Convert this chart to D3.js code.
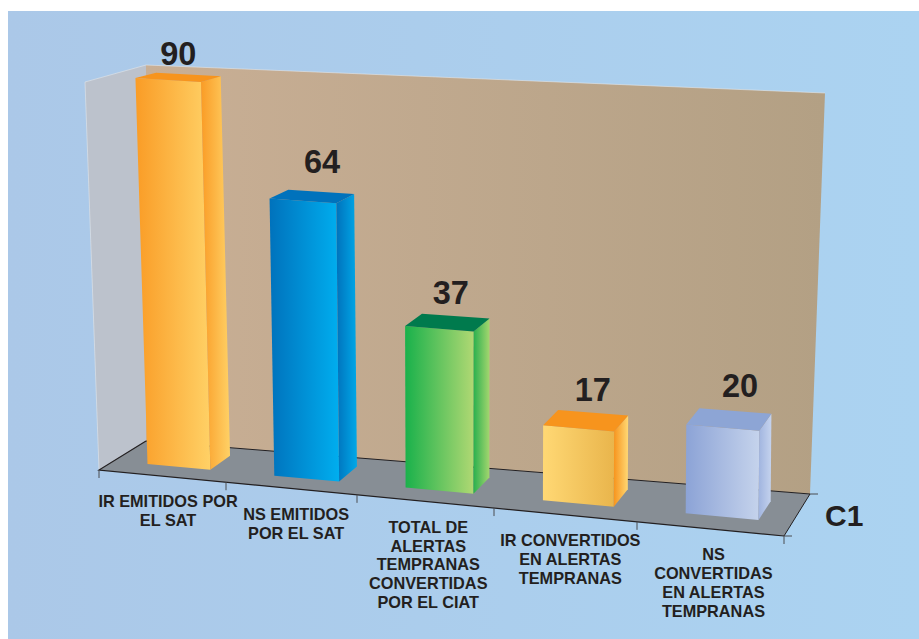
<!DOCTYPE html>
<html>
<head>
	<title>Alertas tempranas</title>
	<meta charset="utf-8">
</head>
<body>

<svg class="chart"></svg>

<style type="text/css">
	body {
		margin: 0;
		background: #fff;
	}

	.chart {
		display: block;
		width: 919px;
		height: 639px;
		font-family: "Liberation Sans", Arial, sans-serif;
		font-weight: bold;
		fill: #231f20;
	}

	.chart .label {
		font-size: 16.3px;
		text-anchor: middle;
	}

	.chart .value {
		font-size: 32.5px;
		text-anchor: middle;
	}
</style>

<script src="https://d3js.org/d3.v7.min.js"></script>
<script type="text/javascript">
	var categories = [
		'IR EMITIDOS POR\nEL SAT',
		'NS EMITIDOS\nPOR EL SAT',
		'TOTAL DE\nALERTAS\nTEMPRANAS\nCONVERTIDAS\nPOR EL CIAT',
		'IR CONVERTIDOS\nEN ALERTAS\nTEMPRANAS',
		'NS\nCONVERTIDAS\nEN ALERTAS\nTEMPRANAS'
	]
	var values = [90, 64, 37, 17, 20]
	var seriesName = 'C1'

	// front, side, top colours of each bar
	var frontColors = [['#fa9c26', '#ffd166'], ['#0072bc', '#00aeef'], ['#19b14b', '#b0d873'], ['#ffd874', '#e9b54c'], ['#8ca3d6', '#c5d3ec']]
	var sideColors = [['#fa9c26', '#ffd166'], ['#0072bc', '#00a8e8'], ['#2ab04e', '#a4d66f'], ['#f7941d', '#ffd874'], ['#a0b4df', '#c5d3ee']]
	var topColors = ['#f7941d', '#0072bc', '#007a4d', '#f7941d', '#8da5d5']

	// hand placed offsets
	var valueNudge = [[0, -12], [10, -23], [3, -18], [7, -20], [11, -22]]
	var labelNudge = [3, 2, 0, 2, 0]

	var svg = d3.select('.chart').attr('viewBox', [0, 0, 919, 639])

	// the box the chart sits in, in page pixels
	var frontLeft = [99, 470]
	var frontRight = [784, 536]
	var backLeft = [146, 441]
	var backRight = [810, 494]
	var topFrontLeft = [85, 82]
	var topBackLeft = [146, 65]
	var topBackRight = [825, 93]

	// u runs along the categories, w goes into the depth, v is the value
	var band = d3.scaleBand().domain(categories).range([0.02, 5.02]).paddingInner(0.5).paddingOuter(0.25)

	var frontX = d3.scaleLinear().domain([0, 1, 2, 3, 4, 5]).range([99, 226, 357, 494, 637, 784])
	var frontY = d3.scaleLinear().domain([frontLeft[0], frontRight[0]]).range([frontLeft[1], frontRight[1]])
	var depthX = d3.scaleLinear().domain([0, 5]).range([backLeft[0] - frontLeft[0], backRight[0] - frontRight[0]])
	var depthY = d3.scaleLinear().domain([0, 5]).range([backLeft[1] - frontLeft[1], backRight[1] - frontRight[1]])
	var lean = d3.scaleLinear().domain([0, 2.5, 5]).range([-0.15, 0, 0.04])
	var rise = d3.scaleLinear().domain([0, 5]).range([4.28, 4.47])

	var depthNear = 0.31
	var depthFar = 0.76

	function project(u, w, v) {
		var x = frontX(u)
		var k = rise(u) - 0.2 * (w - depthNear)
		return [
			x + w * depthX(u) + v * lean(u),
			frontY(x) + w * depthY(u) - v * k
		]
	}

	var polygon = d3.line().curve(d3.curveLinearClosed)

	var defs = svg.append('defs')

	function gradient(id, stops) {
		var g = defs.append('linearGradient').attr('id', id)
		g.selectAll('stop')
			.data(stops)
			.enter()
			.append('stop')
			.attr('offset', function(d, i) { return i / (stops.length - 1) })
			.attr('stop-color', function(d) { return d })
		return 'url(#' + id + ')'
	}

	// background
	svg.append('rect')
		.attr('x', 8)
		.attr('y', 11)
		.attr('width', 911)
		.attr('height', 628)
		.attr('fill', gradient('bg', ['#abc8e8', '#abd3f1']))

	// walls and floor
	svg.append('path')
		.attr('d', polygon([frontLeft, topFrontLeft, topBackLeft, backLeft]))
		.attr('fill', '#bcc2cc')

	svg.append('path')
		.attr('d', polygon([backLeft, topBackLeft, topBackRight, backRight]))
		.attr('fill', gradient('wall', ['#c9af95', '#b3a084']))

	svg.append('path')
		.attr('d', polygon([frontLeft, backLeft, backRight, frontRight]))
		.attr('fill', '#878e95')

	svg.append('path')
		.attr('d', d3.line()([frontLeft, topFrontLeft, topBackLeft, topBackRight]))
		.attr('fill', 'none')
		.attr('stroke', '#e3e6ea')
		.attr('stroke-opacity', 0.6)
		.attr('stroke-width', 1)

	svg.append('path')
		.attr('d', d3.line()([frontRight, frontLeft, backLeft]))
		.attr('fill', 'none')
		.attr('stroke', '#231f20')
		.attr('stroke-width', 1.2)

	svg.append('path')
		.attr('d', d3.line()([backLeft, backRight, frontRight]))
		.attr('fill', 'none')
		.attr('stroke', '#231f20')
		.attr('stroke-width', 1)

	// axis ticks
	svg.selectAll('.tick')
		.data(d3.range(6))
		.enter()
		.append('line')
		.attr('class', 'tick')
		.attr('x1', function(d) { return frontX(d) })
		.attr('x2', function(d) { return frontX(d) })
		.attr('y1', function(d) { return frontY(frontX(d)) })
		.attr('y2', function(d) { return frontY(frontX(d)) + 8 })
		.attr('stroke', '#4a4d50')
		.attr('stroke-width', 1)

	svg.selectAll('.depth-tick')
		.data([frontRight, backRight])
		.enter()
		.append('line')
		.attr('class', 'depth-tick')
		.attr('x1', function(d) { return d[0] })
		.attr('x2', function(d) { return d[0] + 8 })
		.attr('y1', function(d) { return d[1] })
		.attr('y2', function(d) { return d[1] })
		.attr('stroke', '#4a4d50')
		.attr('stroke-width', 1)

	// bars
	var bars = svg.selectAll('.bar')
		.data(categories)
		.enter()
		.append('g')
		.attr('class', 'bar')

	bars.append('path')
		.attr('d', function(d, i) {
			var a = band(d), b = a + band.bandwidth()
			return polygon([project(a, depthNear, 0), project(a, depthNear, values[i]), project(b, depthNear, values[i]), project(b, depthNear, 0)])
		})
		.attr('fill', function(d, i) { return gradient('front' + i, frontColors[i]) })

	bars.append('path')
		.attr('d', function(d, i) {
			var b = band(d) + band.bandwidth()
			return polygon([project(b, depthNear, 0), project(b, depthNear, values[i]), project(b, depthFar, values[i]), project(b, depthFar, 0)])
		})
		.attr('fill', function(d, i) { return gradient('side' + i, sideColors[i]) })

	bars.append('path')
		.attr('d', function(d, i) {
			var a = band(d), b = a + band.bandwidth()
			return polygon([project(a, depthNear, values[i]), project(a, depthFar, values[i]), project(b, depthFar, values[i]), project(b, depthNear, values[i])])
		})
		.attr('fill', function(d, i) { return topColors[i] })

	// value labels
	bars.append('text')
		.attr('class', 'value')
		.attr('x', function(d, i) {
			return project(band(d) + band.bandwidth() / 2, (depthNear + depthFar) / 2, values[i])[0] + valueNudge[i][0]
		})
		.attr('y', function(d, i) {
			return project(band(d) + band.bandwidth() / 2, (depthNear + depthFar) / 2, values[i])[1] + valueNudge[i][1]
		})
		.text(function(d, i) { return values[i] })

	// category labels, wrapped as in the original
	var labels = svg.selectAll('.label')
		.data(categories)
		.enter()
		.append('text')
		.attr('class', 'label')
		.attr('transform', function(d, i) {
			var x = frontX(band(d) + band.bandwidth() / 2)
			return 'translate(' + [x + labelNudge[i], frontY(x) + 31] + ')'
		})

	labels.selectAll('tspan')
		.data(function(d) { return d.split('\n') })
		.enter()
		.append('tspan')
		.attr('x', 0)
		.attr('y', function(d, i) { return i * 18.8 })
		.text(function(d) { return d })

	svg.append('text')
		.attr('x', 825)
		.attr('y', 526)
		.style('font-size', '30px')
		.text(seriesName)
</script>
</body>
</html>
